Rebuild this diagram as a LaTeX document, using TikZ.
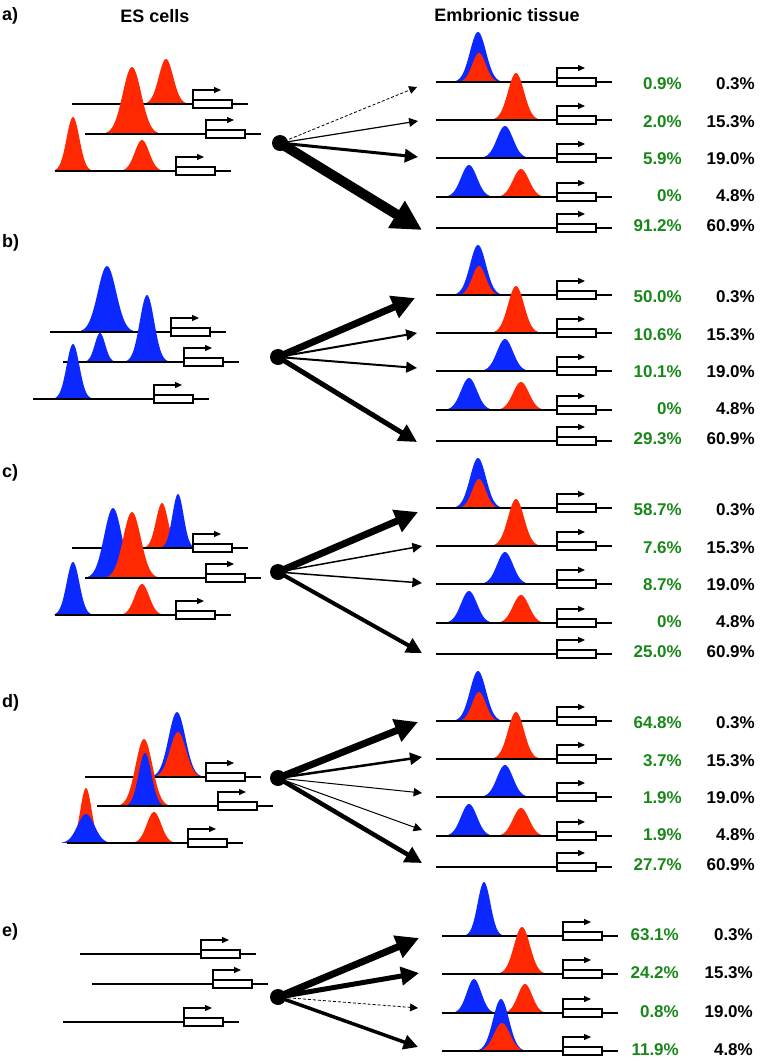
\documentclass[tikz,border=0pt]{standalone}
\usepackage{fontspec}
\setmainfont{Liberation Sans}
\usepackage{tikz}
\usetikzlibrary{arrows.meta}
\definecolor{pkred}{RGB}{255,40,0}
\definecolor{pkblue}{RGB}{10,40,255}
\definecolor{pcgreen}{RGB}{25,135,25}
% gaussian peak: colour, centre x, base y, height, half width
\newcommand{\peak}[5]{\fill[#1] (#2-1.15*#5,#3) -- plot[variable=\t, domain=-1.15:1.15, samples=41] ({#2+#5*\t}, {#3-#4*exp(-3.125*\t*\t)}) -- cycle;}
% strand with promoter arrow and gene box, left end at (x,y)
\newcommand{\strand}[2]{%
  \draw[dna] (#1,#2) -- ++(176,0);
  \draw[gbox] (#1+121,#2-4) rectangle ++(39,8);
  \draw[prom] (#1+121,#2-4) -- ++(0,-10) -- ++(28,0);}

\begin{document}
\begin{tikzpicture}[x=1pt, y=-1pt, every node/.style={font=\fontsize{17}{20}\selectfont\bfseries, inner sep=0}]
\tikzset{dna/.style={line width=2.5},
  gbox/.style={line width=2, fill=white},
  prom/.style={line width=1.3, -{Triangle[length=7pt, width=6pt]}},
  hub/.style={circle, fill, minimum size=16},
  flow/.style={line width=#1, -{Triangle[length=6pt 2.4, width=6pt 2.4]}},
  flowdash/.style={flow=0.8, dash pattern=on 3pt off 2pt},
  hdr/.style={font=\fontsize{18}{20}\selectfont\bfseries},
  pgreen/.style={text=pcgreen, anchor=east},
  pblack/.style={anchor=east}}
\useasboundingbox (0,0) rectangle (760,1061);
% --- headers ---
\node[hdr] (es) at (155,16) {ES cells};
\node[hdr] (emb) at (507,15) {Embrionic tissue};
\foreach \p/\ly in {a/16,b/243,c/473,d/703,e/932}
  \node[hdr, anchor=west] (lab-\p) at (2,\ly) {\p)};
% --- a) left ---
\peak{pkred}{166}{104}{45}{18}
\strand{72}{104}
\peak{pkred}{132}{134}{67}{23}
\strand{85}{134}
\peak{pkred}{73}{171}{54}{16} \peak{pkred}{142}{171}{31}{18}
\strand{55}{171}
% --- b) left ---
\peak{pkblue}{107}{332}{66}{23}
\strand{50}{332}
\peak{pkblue}{100}{362}{29}{13} \peak{pkblue}{147}{362}{67}{18}
\strand{63}{362}
\peak{pkblue}{73}{399}{55}{16}
\strand{33}{399}
% --- c) left ---
\peak{pkred}{162}{548}{45}{15} \peak{pkblue}{178}{548}{54}{14}
\strand{72}{548}
\peak{pkblue}{113}{578}{70}{22} \peak{pkred}{132}{578}{66}{22}
\strand{85}{578}
\peak{pkblue}{73}{615}{53}{16} \peak{pkred}{142}{615}{31}{18}
\strand{55}{615}
% --- d) left ---
\peak{pkblue}{177}{777}{65}{21} \peak{pkred}{178}{777}{45}{20}
\strand{85}{777}
\peak{pkred}{144}{806}{67}{21} \peak{pkblue}{145}{806}{53}{16}
\strand{97}{806}
\peak{pkred}{86}{843}{55}{14} \peak{pkblue}{86}{843}{29}{21} \peak{pkred}{154}{843}{31}{18}
\strand{67}{843}
% --- e) left ---
\strand{80}{954}
\strand{92}{984}
\strand{63}{1022}
% --- right side, a) to d) ---
\foreach \p/\b in {a/82,b/295,c/508,d/721} {
  \foreach \r/\dy/\ly in {1/0/2,2/38/40,3/76/77,4/115/114,5/146/144} {
    \coordinate (\p-r\r) at (436,\b+\dy);
    \coordinate (\p-l\r) at (436,\b+\ly);
  }
  \peak{pkblue}{478}{\b}{50}{20} \peak{pkred}{479}{\b}{29}{17}
  \strand{436}{\b}
  \peak{pkred}{516}{\b+38}{47}{20}
  \strand{436}{\b+38}
  \peak{pkblue}{505}{\b+76}{32}{20}
  \strand{436}{\b+76}
  \peak{pkblue}{469}{\b+115}{32}{20} \peak{pkred}{521}{\b+115}{28}{20}
  \strand{436}{\b+115}
  \strand{436}{\b+146}
  \foreach \r/\v in {1/0.3,2/15.3,3/19.0,4/4.8,5/60.9}
    \node[pblack] (\p-k\r) at ([xshift=319pt]\p-l\r) {\v\%};
}
% --- right side, e) ---
\foreach \r/\yy in {1/936,2/974,3/1013,4/1051} {
  \coordinate (e-r\r) at (442,\yy);
  \coordinate (e-l\r) at (442,\yy-1);
}
\peak{pkblue}{484}{936}{54}{16}
\strand{442}{936}
\peak{pkred}{522}{974}{47}{20}
\strand{442}{974}
\peak{pkblue}{474}{1013}{34}{18} \peak{pkred}{525}{1013}{29}{18}
\strand{442}{1013}
\peak{pkblue}{501}{1051}{52}{20} \peak{pkred}{502}{1051}{28}{20}
\strand{442}{1051}
\foreach \r/\v in {1/0.3,2/15.3,3/19.0,4/4.8}
  \node[pblack] (e-k\r) at ([xshift=311pt]e-l\r) {\v\%};
% --- green fractions ---
\foreach \r/\v in {1/0.9,2/2.0,3/5.9,4/0,5/91.2}
  \node[pgreen] (a-g\r) at ([xshift=246pt]a-l\r) {\v\%};
\foreach \r/\v in {1/50.0,2/10.6,3/10.1,4/0,5/29.3}
  \node[pgreen] (b-g\r) at ([xshift=246pt]b-l\r) {\v\%};
\foreach \r/\v in {1/58.7,2/7.6,3/8.7,4/0,5/25.0}
  \node[pgreen] (c-g\r) at ([xshift=246pt]c-l\r) {\v\%};
\foreach \r/\v in {1/64.8,2/3.7,3/1.9,4/1.9,5/27.7}
  \node[pgreen] (d-g\r) at ([xshift=246pt]d-l\r) {\v\%};
\foreach \r/\v in {1/63.1,2/24.2,3/0.8,4/11.9}
  \node[pgreen] (e-g\r) at ([xshift=237pt]e-l\r) {\v\%};
% --- hubs and arrows ---
\node[hub] (hubA) at (280,143) {};
\foreach \r/\tx/\ty in {1/417/87,2/418/121,3/418/157,5/422/230}
  \coordinate (a-t\r) at (\tx,\ty);
\draw[flowdash] (hubA.center) -- (a-t1);
\foreach \r/\w in {2/1.2,3/3,5/10}
  \draw[flow=\w] (hubA.center) -- (a-t\r);
\node[hub] (hubB) at (278,357) {};
\foreach \r/\tx/\ty in {1/415/298,2/417/333,3/417/368,5/417/442}
  \coordinate (b-t\r) at (\tx,\ty);
\foreach \r/\w in {1/7,2/2,3/2,5/5}
  \draw[flow=\w] (hubB.center) -- (b-t\r);
\node[hub] (hubC) at (278,572) {};
\foreach \r/\tx/\ty in {1/418/512,2/422/546,3/422/583,5/422/653}
  \coordinate (c-t\r) at (\tx,\ty);
\foreach \r/\w in {1/7,2/1.5,3/1.5,5/4}
  \draw[flow=\w] (hubC.center) -- (c-t\r);
\node[hub] (hubD) at (278,778) {};
\foreach \r/\tx/\ty in {1/418/722,2/422/757,3/422/793,4/422/830,5/422/863}
  \coordinate (d-t\r) at (\tx,\ty);
\foreach \r/\w in {1/7,2/2.5,3/1,4/1,5/4.5}
  \draw[flow=\w] (hubD.center) -- (d-t\r);
\node[hub] (hubE) at (278,997) {};
\foreach \r/\tx/\ty in {1/419/938,2/419/973,3/418/1008,4/418/1047}
  \coordinate (e-t\r) at (\tx,\ty);
\draw[flowdash] (hubE.center) -- (e-t3);
\foreach \r/\w in {1/7,2/5,4/3.5}
  \draw[flow=\w] (hubE.center) -- (e-t\r);
\end{tikzpicture}
\end{document}
